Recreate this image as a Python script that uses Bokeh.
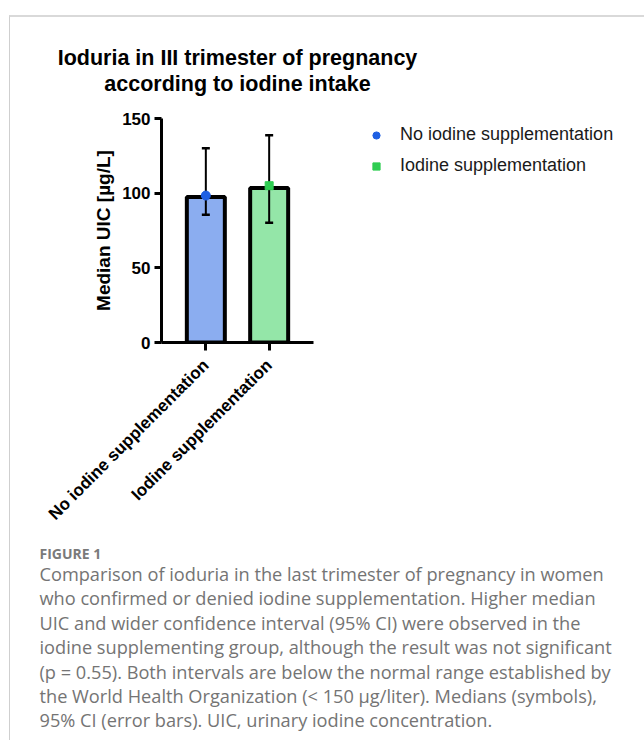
import math
from bokeh.plotting import figure
from bokeh.models import (FactorRange, Range1d, FixedTicker, ColumnDataSource,
                          Legend, LegendItem, Title)
from bokeh.embed import file_html
from bokeh.resources import INLINE

# ---------------- data ----------------
categories = ["No iodine supplementation", "Iodine supplementation"]
bar_heights = [97.5, 103.5]
medians = [98.4, 105.0]
ci_lower = [85.5, 80.2]
ci_upper = [130.1, 138.8]
y_ticks = [0, 50, 100, 150]
bar_colors = ["#8badf0", "#94e6a8"]
marker_colors = ["#1e5fe3", "#2fcd52"]
marker_shapes = ["circle", "square"]
y_label = "Median UIC [µg/L]"
title_lines = ["Ioduria in III trimester of pregnancy", "according to iodine intake"]
caption_heading = "FIGURE 1"
caption_lines = [
    "Comparison of ioduria in the last trimester of pregnancy in women",
    "who confirmed or denied iodine supplementation. Higher median",
    "UIC and wider confidence interval (95% CI) were observed in the",
    "iodine supplementing group, although the result was not significant",
    "(p = 0.55). Both intervals are below the normal range established by",
    "the World Health Organization (< 150 µg/liter). Medians (symbols),",
    "95% CI (error bars). UIC, urinary iodine concentration.",
]

# ---------------- layout (page px) ----------------
BX, BY = 10, 17          # where the figure canvas starts (inside the thin frame border)
FL, FR, FT, FB = 161, 313, 118, 342

p = figure(frame_width=FR - FL, frame_height=FB - FT,
           x_range=FactorRange(*categories, range_padding=0.2),
           y_range=Range1d(0, 150),
           output_backend="svg", toolbar_location=None,
           min_border_left=FL - BX, min_border_right=0,
           min_border_top=FT - BY, min_border_bottom=398)
p.styles = {"border-top": "2px solid #d9d9d9", "border-left": "1px solid #cfcfcf",
            "margin-left": "9px", "margin-top": "15px"}
p.outline_line_color = None
p.xgrid.grid_line_color = None
p.ygrid.grid_line_color = None
p.background_fill_color = "white"
p.border_fill_color = "white"

src = ColumnDataSource(dict(cat=categories, top=bar_heights, med=medians,
                            lo=ci_lower, hi=ci_upper, fill=bar_colors))
p.vbar(x="cat", top="top", width=0.6, source=src, fill_color="fill",
       line_color="black", line_width=4)

# error bars (95% CI)
p.segment(x0="cat", y0="lo", x1="cat", y1="hi", source=src,
          line_color="black", line_width=2)
p.scatter(x="cat", y="hi", source=src, marker="dash", size=8,
          line_color="black", line_width=2.5)
p.scatter(x="cat", y="lo", source=src, marker="dash", size=8,
          line_color="black", line_width=2.5)

renderers = []
for i, c in enumerate(categories):
    r = p.scatter(x=[c], y=[medians[i]], marker=marker_shapes[i],
                  size=9 if i == 0 else 8, fill_color=marker_colors[i],
                  line_color=marker_colors[i])
    renderers.append(r)

# axes
yax = p.yaxis[0]
yax.ticker = FixedTicker(ticks=y_ticks)
yax.minor_tick_line_color = None
yax.axis_line_width = 3
yax.major_tick_line_width = 3
yax.major_tick_out = 7
yax.major_tick_in = 0
yax.major_label_text_font = "Liberation Sans"
yax.major_label_text_font_style = "bold"
yax.major_label_text_font_size = "17px"
yax.major_label_text_color = "black"
yax.major_label_standoff = 4
yax.axis_label = y_label
yax.axis_label_text_font = "Liberation Sans"
yax.axis_label_text_font_style = "bold"
yax.axis_label_text_font_size = "19px"
yax.axis_label_text_color = "black"
yax.axis_label_standoff = 5

xax = p.xaxis[0]
xax.axis_line_width = 3
xax.major_tick_line_width = 3
xax.major_tick_out = 8
xax.major_tick_in = 0
xax.minor_tick_line_color = None
xax.major_label_orientation = math.pi / 4
xax.major_label_text_font = "Liberation Sans"
xax.major_label_text_font_style = "bold"
xax.major_label_text_font_size = "17px"
xax.major_label_text_color = "black"
xax.major_label_standoff = 12

# title: each line centred; panels in p.above stack outward from the plot
p.add_layout(Title(text=" ", text_font_size="1px", standoff=20), "above")  # spacer
p.add_layout(Title(text=title_lines[1], align="center", text_font="Liberation Sans",
                   text_font_style="bold", text_font_size="21.5px",
                   text_color="black", standoff=0), "above")
p.title.text = title_lines[0]
p.title.align = "center"
p.title.text_font = "Liberation Sans"
p.title.text_font_style = "bold"
p.title.text_font_size = "21.5px"
p.title.text_color = "black"
p.title.standoff = 0

# legend in the right panel
legend = Legend(items=[LegendItem(label=categories[i], renderers=[renderers[i]])
                       for i in range(len(categories))],
                location=(54, 166), padding=0, margin=0, spacing=10,
                glyph_width=18, glyph_height=18, label_height=20,
                label_standoff=15, border_line_color=None,
                background_fill_alpha=0,
                label_text_font="Liberation Sans", label_text_font_size="18px",
                label_text_color="#1a1a1a")
p.add_layout(legend, "right")

# caption (below the chart)
p.add_layout(Title(text=caption_heading, align="left", offset=-122,
                   text_font="Open Sans", text_font_style="bold",
                   text_font_size="14px", text_color="#7a7a7a", standoff=16), "below")
p.add_layout(Title(text="\n".join(caption_lines), align="left", offset=-122,
                   text_font="Open Sans", text_font_style="normal",
                   text_font_size="18.2px", text_color="#747474",
                   text_line_height=1.02, standoff=-22), "below")

open("out.html", "w").write(file_html(p, INLINE))
